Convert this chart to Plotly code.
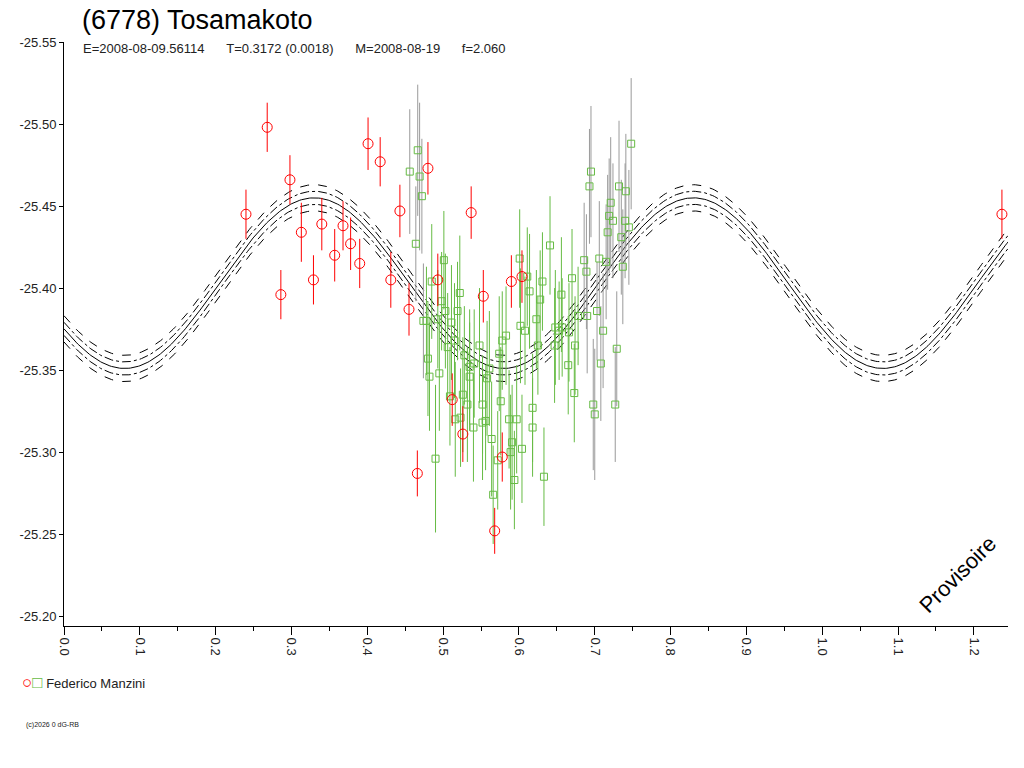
import numpy as np
import plotly.graph_objects as go

red_phase = [0.240,0.268,0.286,0.298,0.313,0.329,0.340,0.357,0.368,0.378,0.390,0.401,0.417,0.431,0.443,0.455,0.466,0.480,0.493,0.512,0.526,0.537,0.553,0.568,0.578,0.590,0.604,1.237]
red_mag = [-25.445,-25.498,-25.396,-25.466,-25.434,-25.405,-25.439,-25.420,-25.438,-25.427,-25.415,-25.488,-25.477,-25.405,-25.447,-25.387,-25.287,-25.473,-25.405,-25.332,-25.311,-25.446,-25.395,-25.252,-25.297,-25.404,-25.407,-25.445]
red_err = [0.015,0.015,0.015,0.015,0.018,0.015,0.016,0.016,0.015,0.016,0.015,0.016,0.015,0.017,0.016,0.016,0.014,0.016,0.016,0.016,0.017,0.016,0.016,0.014,0.015,0.016,0.016,0.015]

green_phase = [0.4665,0.456,0.469,0.472,0.464,0.501,0.485,0.522,0.498,0.503,0.519,0.474,0.478,0.493,0.511,0.515,0.506,0.548,0.528,0.574,
               0.578,0.583,0.535,0.541,0.561,0.535,0.558,0.480,0.482,0.495,0.509,0.526,0.532,0.552,0.576,0.523,0.516,0.540,0.552,0.556,
               0.564,0.587,0.597,0.591,0.589,0.604,0.572,0.490,0.566,0.594,0.601,0.602,0.608,0.611,0.614,0.618,0.618,
               0.748,0.695,0.693,0.732,0.741,0.721,0.719,0.724,0.717,0.740,0.735,0.745,0.641,0.686,0.706,0.715,0.737,0.689,0.670,0.631,
               0.628,0.656,0.678,0.690,0.703,0.623,0.648,0.657,0.666,0.653,0.711,0.625,0.647,0.674,0.729,0.665,0.708,0.673,0.698,0.700,0.727,0.633]
green_mag = [-25.484,-25.471,-25.468,-25.456,-25.427,-25.417,-25.404,-25.397,-25.392,-25.386,-25.386,-25.380,-25.380,-25.381,-25.379,-25.368,-25.364,-25.365,-25.359,-25.360,
             -25.368,-25.371,-25.352,-25.354,-25.351,-25.346,-25.345,-25.357,-25.346,-25.348,-25.334,-25.335,-25.329,-25.329,-25.331,-25.321,-25.320,-25.315,-25.318,-25.319,
             -25.308,-25.320,-25.320,-25.306,-25.300,-25.302,-25.295,-25.296,-25.274,-25.283,-25.418,-25.377,-25.374,-25.407,-25.398,-25.327,-25.315,
             -25.488,-25.471,-25.462,-25.462,-25.459,-25.452,-25.444,-25.441,-25.434,-25.441,-25.431,-25.437,-25.426,-25.417,-25.418,-25.416,-25.413,-25.410,-25.406,-25.404,
             -25.393,-25.396,-25.383,-25.383,-25.386,-25.381,-25.376,-25.376,-25.373,-25.374,-25.374,-25.365,-25.365,-25.365,-25.363,-25.353,-25.354,-25.336,-25.329,-25.323,-25.329,-25.285]
green_err = [0.040,0.038,0.045,0.035,0.035,0.030,0.035,0.035,0.030,0.035,0.030,0.035,0.033,0.030,0.035,0.035,0.033,0.035,0.030,0.035,
             0.030,0.030,0.035,0.033,0.035,0.033,0.035,0.035,0.033,0.035,0.030,0.035,0.035,0.030,0.033,0.030,0.035,0.033,0.035,0.030,
             0.035,0.030,0.033,0.035,0.035,0.033,0.030,0.045,0.030,0.030,0.030,0.035,0.033,0.030,0.035,0.033,0.030,
             0.040,0.040,0.035,0.040,0.035,0.040,0.035,0.035,0.035,0.035,0.035,0.035,0.030,0.035,0.035,0.035,0.035,0.035,0.030,0.030,
             0.030,0.035,0.030,0.035,0.030,0.030,0.035,0.030,0.030,0.030,0.035,0.030,0.035,0.030,0.035,0.030,0.035,0.030,0.040,0.040,0.035,0.030]

# fitted model: mean, amplitude, phase of maximum, offsets of uncertainty curves
mean_mag, amp, phase0 = -25.403, 0.052, 0.33
offsets = [(-0.008,'dash'),(-0.004,'dashdot'),(0,'solid'),(0.004,'dashdot'),(0.008,'dash')]

fig = go.Figure()
xs = np.linspace(0, 1.25, 600)
for off, dash in offsets:
    fig.add_trace(go.Scatter(x=xs, y=mean_mag - amp*np.cos(4*np.pi*(xs-phase0)) + off, mode='lines',
                             line=dict(color='black', width=1, dash=dash), showlegend=False, hoverinfo='skip'))

gp = np.array(green_phase); gm = np.array(green_mag); ge = np.array(green_err)
edge = (gp < 0.475) | (gp > 0.68)
for mask, ecol in [(edge, '#9a9a9a'), (~edge, '#66bb44')]:
    fig.add_trace(go.Scatter(x=gp[mask], y=gm[mask], mode='markers',
        marker=dict(symbol='square-open', size=7, color='#66bb44', line=dict(width=1)),
        error_y=dict(type='data', array=ge[mask], color=ecol, thickness=1, width=0), showlegend=False))
fig.add_trace(go.Scatter(x=red_phase, y=red_mag, mode='markers',
    marker=dict(symbol='circle-open', size=10, color='red', line=dict(width=1)),
    error_y=dict(type='data', array=red_err, color='red', thickness=1, width=0), showlegend=False))

fig.update_layout(
    width=1024, height=768, paper_bgcolor='white', plot_bgcolor='white',
    margin=dict(l=52, r=24, t=34, b=150),
    font=dict(family='Liberation Sans, Arial', size=13, color='#222'),
    xaxis=dict(range=[0, 1.245], tickvals=[i/10 for i in range(13)], ticktext=[f'{i/10:.1f}' for i in range(13)],
               tickangle=90, ticks='outside', ticklen=8, showgrid=False, zeroline=False, showline=True, linecolor='black',
               minor=dict(dtick=0.05, ticks='outside', ticklen=4, tickcolor='black'), tickcolor='black'),
    yaxis=dict(range=[-25.194, -25.55], tickvals=[-25.55,-25.50,-25.45,-25.40,-25.35,-25.30,-25.25,-25.20],
               ticktext=['-25.55','-25.50','-25.45','-25.40','-25.35','-25.30','-25.25','-25.20'],
               ticks='outside', ticklen=4, tickcolor='black', showgrid=False, zeroline=False, showline=True, linecolor='black'),
)
fig.add_annotation(text='(6778) Tosamakoto', xref='paper', yref='paper', x=16/948, y=1+(42-20)/584, xanchor='left', yanchor='middle',
                   showarrow=False, font=dict(size=27, color='black'))
sp = '&nbsp;' * 6
fig.add_annotation(text=f'E=2008-08-09.56114{sp}T=0.3172 (0.0018){sp}M=2008-08-19{sp}f=2.060', xref='paper', yref='paper',
                   x=17/948, y=1-(48-42)/584, xanchor='left', yanchor='middle', showarrow=False, font=dict(size=13, color='#222'))
fig.add_annotation(text='Provisoire', xref='paper', yref='paper', x=(1004-60)/948, y=(626-621)/584, textangle=-45,
                   showarrow=False, font=dict(size=22, color='black'))
fig.add_annotation(text='<span style="color:red;font-size:17px">○</span><span style="color:#66bb44;font-size:17px">□</span> Federico Manzini',
                   xref='paper', yref='paper',
                   x=-44/948, y=-(683-626)/584, xanchor='left', yanchor='middle', showarrow=False, font=dict(size=13, color='#222'))
fig.add_annotation(text='(c)2026 0 dG-RB', xref='paper', yref='paper', x=-40/948, y=-(725-626)/584, xanchor='left', yanchor='middle',
                   showarrow=False, font=dict(size=7, color='#222'))
fig.write_html('out.html')
